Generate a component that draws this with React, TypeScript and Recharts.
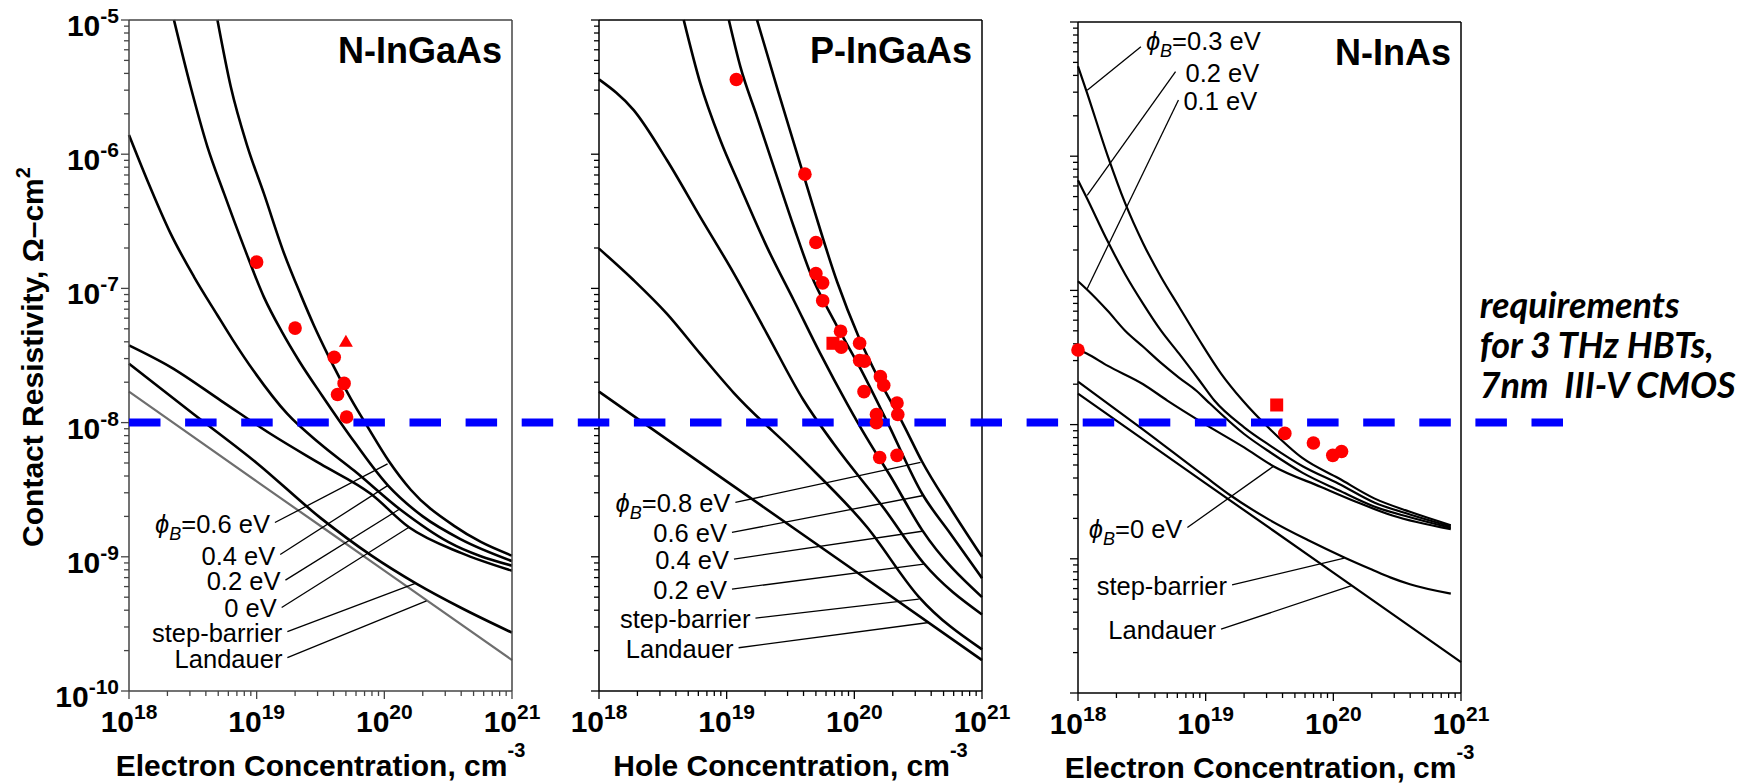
import React from 'react';
import { ComposedChart, Line, Scatter, XAxis, YAxis, ReferenceLine } from 'recharts';

const FONT = "'Liberation Sans', Arial, Helvetica, sans-serif";
const NOTE_FONT = "Lato, 'Open Sans', sans-serif";

// axis decades and minor multipliers
const X_DECADES = [18, 19, 20, 21];
const Y_DECADES = [-10, -9, -8, -7, -6, -5];
const MINOR = [2, 3, 4, 5, 6, 7, 8, 9];
const X_DOMAIN = [1e18, 1e21];
const Y_DOMAIN = [1e-10, 1e-5];

// 1e-8 ohm-cm2 target, drawn across all three panels
const REQUIREMENT = 1e-8;
const REQ_SPAN = [{ x: 0, y: REQUIREMENT }, { x: 1, y: REQUIREMENT }];
const REQ_NOTE = ['requirements', 'for 3 THz HBTs,', '7nm  III-V CMOS'];

// ---- N-InGaAs (x = electron concentration, y = contact resistivity) ----
const P1_PHI06 = [[4.93e18, 1.0e-5], [6.27e18, 3.18e-6], [8.47e18, 1.14e-6], [1.14e19, 5.08e-7], [1.64e19, 1.82e-7], [2.22e19, 8.91e-8], [2.82e19, 5.25e-8], [3.59e19, 3.24e-8], [5.46e19, 1.51e-8], [7.38e19, 9.33e-9], [1.09e20, 5.13e-9], [1.61e20, 3.16e-9], [3.52e20, 1.7e-9], [5.7e20, 1.29e-9], [1e21, 1.02e-9]];
const P1_PHI04 = [[2.25e18, 1.0e-5], [3.04e18, 3.18e-6], [4.11e18, 1.14e-6], [5.56e18, 5.08e-7], [7.96e18, 2.03e-7], [1.14e19, 8.61e-8], [1.59e19, 4.68e-8], [2.15e19, 2.88e-8], [3.27e19, 1.58e-8], [5.3e19, 8.13e-9], [1.07e20, 3.39e-9], [2.0e20, 2.0e-9], [3.98e20, 1.35e-9], [1e21, 9.3e-10]];
const P1_PHI02 = [[1e18, 1.39e-6], [1.39e18, 6.4e-7], [2.12e18, 2.56e-7], [3.23e18, 1.22e-7], [4.93e18, 6.31e-8], [6.46e18, 4.17e-8], [9.55e18, 2.4e-8], [1.74e19, 1.16e-8], [3.16e19, 6.93e-9], [5.79e19, 4.39e-9], [1.34e20, 2.24e-9], [3.16e20, 1.29e-9], [1e21, 8.57e-10]];
const P1_PHI0 = [[1e18, 3.76e-8], [2.12e18, 2.59e-8], [5.24e18, 1.46e-8], [1.29e19, 8.22e-9], [3.16e19, 4.92e-9], [7.82e19, 2.95e-9], [1.56e20, 1.66e-9], [3.98e20, 1.07e-9], [1e21, 7.87e-10]];
const P1_STEP = [[1e18, 2.75e-8], [3.16e18, 1.17e-8], [1e19, 5.01e-9], [3.16e19, 1.95e-9], [7.94e19, 1.02e-9], [1.78e20, 6.31e-10], [3.98e20, 4.17e-10], [1e21, 2.72e-10]];
const LANDAUER = [[1e18, 1.7e-8], [1e19, 3.65e-9], [1e20, 7.9e-10], [1e21, 1.7e-10]];
const P1_CIRCLES = [[1e19, 1.57e-7], [2e19, 5.06e-8], [4.05e19, 3.07e-8], [4.84e19, 1.96e-8], [4.3e19, 1.62e-8], [5.06e19, 1.1e-8]];
const P1_TRIANGLES = [[5e19, 4e-8]];

// ---- P-InGaAs (x = hole concentration) ----
const P2_PHI08 = [[1.73e19, 1.0e-5], [2.51e19, 3.02e-6], [3.55e19, 1.02e-6], [4.79e19, 3.98e-7], [7.33e19, 1.12e-7], [1.08e20, 4.37e-8], [1.6e20, 2.0e-8], [2.44e20, 9.55e-9], [3.39e20, 5.13e-9], [5.68e20, 2.29e-9], [1e21, 1.0e-9]];
const P2_PHI06 = [[1.04e19, 1.0e-5], [1.28e19, 4.49e-6], [1.73e19, 1.9e-6], [2.48e19, 6.78e-7], [3.36e19, 2.87e-7], [4.54e19, 1.29e-7], [6.92e19, 5.77e-8], [1.12e20, 2.51e-8], [1.82e20, 1.0e-8], [3.4e20, 2.95e-9], [5.68e20, 1.48e-9], [1e21, 6.93e-10]];
const P2_PHI04 = [[4.61e18, 1.0e-5], [6.22e18, 3.37e-6], [8.93e18, 1.27e-6], [1.28e19, 5.7e-7], [2.07e19, 2.03e-7], [3.36e19, 8.13e-8], [5.43e19, 3.25e-8], [8.79e19, 1.38e-8], [1.26e20, 7.59e-9], [1.92e20, 3.98e-9], [3.4e20, 1.58e-9], [1e21, 5.01e-10]];
const P2_PHI02 = [[1e18, 3.61e-6], [1.87e18, 2.13e-6], [3.41e18, 9.02e-7], [6.22e18, 3.4e-7], [1.14e19, 1.29e-7], [2.07e19, 4.59e-8], [3.98e19, 1.48e-8], [6.92e19, 6.92e-9], [1.71e20, 2.29e-9], [3.51e20, 8.91e-10], [1e21, 3.72e-10]];
const P2_STEP = [[1e18, 1.98e-7], [1.87e18, 1.15e-7], [3.41e18, 6.46e-8], [6.22e18, 3.25e-8], [1.14e19, 1.66e-8], [3.78e19, 5.5e-9], [1.26e20, 1.66e-9], [3.21e20, 5.01e-10], [1e21, 2.04e-10]];
const P2_CIRCLES = [[1.19e19, 3.6e-6], [4.1e19, 7.1e-7], [5.0e19, 2.2e-7], [5.0e19, 1.29e-7], [5.65e19, 1.1e-7], [5.65e19, 8.1e-8], [7.8e19, 4.8e-8], [7.9e19, 3.65e-8], [1.1e20, 3.9e-8], [1.1e20, 2.9e-8], [1.2e20, 2.87e-8], [1.6e20, 2.2e-8], [1.7e20, 1.9e-8], [1.19e20, 1.7e-8], [2.16e20, 1.4e-8], [2.19e20, 1.15e-8], [1.49e20, 1.15e-8], [1.49e20, 1.0e-8], [1.58e20, 5.5e-9], [2.16e20, 5.7e-9]];
const P2_SQUARES = [[6.8e19, 3.9e-8]];

// ---- N-InAs ----
const P3_PHI03 = [[1e18, 4.68e-6], [1.17e18, 3.02e-6], [1.7e18, 1.02e-6], [2.34e18, 4.47e-7], [3.24e18, 2.24e-7], [4.47e18, 1.26e-7], [6.17e18, 7.59e-8], [8.91e18, 4.27e-8], [1.32e19, 2.4e-8], [1.95e19, 1.51e-8], [3.24e19, 9.12e-9], [5.75e19, 5.62e-9], [1.1e20, 3.98e-9], [2.09e20, 2.82e-9], [3.98e20, 2.24e-9], [8.32e20, 1.78e-9]];
const P3_PHI02 = [[1e18, 6.61e-7], [1.17e18, 4.9e-7], [1.7e18, 2.34e-7], [2.34e18, 1.32e-7], [3.24e18, 7.94e-8], [4.47e18, 5.01e-8], [6.17e18, 3.39e-8], [8.91e18, 2.14e-8], [1.17e19, 1.51e-8], [2.0e19, 9.55e-9], [3.24e19, 6.92e-9], [5.75e19, 4.9e-9], [1.1e20, 3.63e-9], [2.09e20, 2.63e-9], [3.98e20, 2.14e-9], [8.32e20, 1.74e-9]];
const P3_PHI01 = [[1e18, 1.17e-7], [1.17e18, 1.02e-7], [1.7e18, 7.08e-8], [2.34e18, 5.01e-8], [3.24e18, 3.8e-8], [4.47e18, 2.88e-8], [6.17e18, 2.24e-8], [8.51e18, 1.78e-8], [1.02e19, 1.51e-8], [2.0e19, 8.51e-9], [3.24e19, 6.17e-9], [5.75e19, 4.37e-9], [1.1e20, 3.24e-9], [2.09e20, 2.45e-9], [3.98e20, 2.04e-9], [8.32e20, 1.7e-9]];
const P3_PHI0 = [[1e18, 3.63e-8], [1.17e18, 3.39e-8], [1.7e18, 2.75e-8], [3.24e18, 2.0e-8], [5.01e18, 1.51e-8], [1e19, 1.0e-8], [2.0e19, 6.76e-9], [3.39e19, 4.9e-9], [8.02e19, 3.43e-9], [1.52e20, 2.65e-9], [2.9e20, 2.1e-9], [8.32e20, 1.66e-9]];
const P3_STEP = [[1e18, 2.09e-8], [3.16e18, 9.33e-9], [1e19, 4.07e-9], [1.58e19, 2.95e-9], [3.16e19, 1.95e-9], [6.31e19, 1.38e-9], [1.23e20, 1.02e-9], [2.0e20, 8.32e-10], [2.82e20, 7.24e-10], [3.98e20, 6.46e-10], [8.32e20, 5.5e-10]];
const P3_CIRCLES = [[1e18, 3.6e-8], [4.17e19, 8.6e-9], [6.98e19, 7.3e-9], [9.9e19, 5.9e-9], [1.16e20, 6.3e-9]];
const P3_SQUARES = [[3.6e19, 1.4e-8]];

// leader lines: a = label end, b = curve end
const P1_LEADERS = [
    { label: '=0.6 eV', phi: true, a: [1.39e19, 1.8e-9], b: [1.06e20, 4.92e-9] },
    { label: '0.4 eV', a: [1.53e19, 1.04e-9], b: [1.06e20, 3.39e-9] },
    { label: '0.2 eV', a: [1.68e19, 6.7e-10], b: [1.32e20, 2.27e-9] },
    { label: '0 eV', a: [1.57e19, 4.19e-10], b: [1.56e20, 1.66e-9] },
    { label: 'step-barrier', a: [1.74e19, 2.77e-10], b: [1.77e20, 6.37e-10] },
    { label: 'Landauer', a: [1.74e19, 1.77e-10], b: [2.14e20, 4.7e-10] },
];
const P2_LEADERS = [
    { label: '=0.8 eV', phi: true, a: [1.17e19, 2.54e-9], b: [3.3e20, 5.06e-9] },
    { label: '0.6 eV', a: [1.1e19, 1.52e-9], b: [3.4e20, 2.85e-9] },
    { label: '0.4 eV', a: [1.14e19, 9.62e-10], b: [3.4e20, 1.55e-9] },
    { label: '0.2 eV', a: [1.1e19, 5.74e-10], b: [3.5e20, 8.83e-10] },
    { label: 'step-barrier', a: [1.68e19, 3.49e-10], b: [3.2e20, 4.83e-10] },
    { label: 'Landauer', a: [1.24e19, 2.1e-10], b: [3.83e20, 3.24e-10] },
];
const P3_LEADERS = [
    { label: '=0 eV', phi: true, a: [7.19e18, 1.71e-9], b: [3.37e19, 4.86e-9] },
    { label: 'step-barrier', a: [1.61e19, 6.4e-10], b: [1.22e20, 1.01e-9] },
    { label: 'Landauer', a: [1.32e19, 2.99e-10], b: [1.39e20, 6.3e-10] },
    { label: '=0.3 eV', phi: true, a: [3.11e18, 6.55e-6], b: [1.18e18, 3.1e-6], anchor: 'start', off: [5, 3] },
    { label: '0.2 eV', a: [5.81e18, 4.26e-6], b: [1.18e18, 5.1e-7], anchor: 'start', off: [10, 10] },
    { label: '0.1 eV', a: [6.12e18, 2.62e-6], b: [1.18e18, 1.03e-7], anchor: 'start', off: [5, 10] },
];

const PLOT_W = 383;
const PLOT_H = 671;
const CHART_W = 553;
const REQ_LEFT = 129.3;
const REQ_WIDTH = 1435.7;

const PANELS = [
    {
        id: 'ningaas', left: 129.3, top: 20, axis: '#444', yLabels: true, title: 'N-InGaAs',
        xTitle: 'Electron Concentration, cm', width: 2.6,
        curves: [
            { name: 'phi06', pts: P1_PHI06 }, { name: 'phi04', pts: P1_PHI04 },
            { name: 'phi02', pts: P1_PHI02 }, { name: 'phi0', pts: P1_PHI0 },
            { name: 'step', pts: P1_STEP }, { name: 'landauer', pts: LANDAUER, stroke: '#6e6e6e', w: 2.2 },
        ],
        leaders: P1_LEADERS, circles: P1_CIRCLES, squares: [], triangles: P1_TRIANGLES,
    },
    {
        id: 'pingaas', left: 598.7, top: 20, axis: '#000', yLabels: false, title: 'P-InGaAs',
        xTitle: 'Hole Concentration, cm', width: 2.6,
        curves: [
            { name: 'phi08', pts: P2_PHI08 }, { name: 'phi06', pts: P2_PHI06 },
            { name: 'phi04', pts: P2_PHI04 }, { name: 'phi02', pts: P2_PHI02 },
            { name: 'step', pts: P2_STEP }, { name: 'landauer', pts: LANDAUER },
        ],
        leaders: P2_LEADERS, circles: P2_CIRCLES, squares: P2_SQUARES, triangles: [],
    },
    {
        id: 'ninas', left: 1078.2, top: 22, axis: '#000', yLabels: false, title: 'N-InAs',
        xTitle: 'Electron Concentration, cm', width: 2.2,
        curves: [
            { name: 'phi03', pts: P3_PHI03 }, { name: 'phi02', pts: P3_PHI02 },
            { name: 'phi01', pts: P3_PHI01 }, { name: 'phi0', pts: P3_PHI0 },
            { name: 'step', pts: P3_STEP }, { name: 'landauer', pts: LANDAUER },
        ],
        leaders: P3_LEADERS, circles: P3_CIRCLES, squares: P3_SQUARES, triangles: [],
    },
];

const buildTicks = (decades: number[]) => {
    const out: number[] = [];
    decades.forEach((d, i) => {
        out.push(Math.pow(10, d));
        if (i < decades.length - 1) MINOR.forEach((m) => out.push(m * Math.pow(10, d)));
    });
    return out;
};
const X_TICKS = buildTicks(X_DECADES);
const Y_TICKS = buildTicks(Y_DECADES);

const isMajor = (v: number) => Math.abs(Math.log10(v) - Math.round(Math.log10(v))) < 1e-6;
const toPts = (arr: number[][]) => arr.map(([x, y]) => ({ x, y }));

const tickRenderer = (side: string, color: string, labelled: boolean) => (props: any) => {
    const { x, y, payload } = props;
    const v = payload.value;
    const major = isMajor(v);
    const len = major ? 8 : 5;
    let x2 = x;
    let y2 = y;
    if (side === 'bottom') y2 = y + len;
    if (side === 'top') y2 = y - len;
    if (side === 'left') x2 = x - len;
    if (side === 'right') x2 = x + len;
    const e = Math.round(Math.log10(v));
    let label = null;
    if (labelled && major && side === 'bottom') {
        label = (
            <text x={x} y={y + 41} textAnchor="middle" fontFamily={FONT} fontWeight="bold" fill="#000">
                <tspan fontSize={30}>10</tspan>
                <tspan fontSize={21} dy={-13}>{e}</tspan>
            </text>
        );
    }
    if (labelled && major && side === 'left') {
        label = (
            <text x={x - 10} y={y + 16} textAnchor="end" fontFamily={FONT} fontWeight="bold" fill="#000">
                <tspan fontSize={30}>10</tspan>
                <tspan fontSize={21} dy={-13}>{e}</tspan>
            </text>
        );
    }
    return (
        <g>
            <line x1={x} y1={y} x2={x2} y2={y2} stroke={color} strokeWidth={1.3} />
            {label}
        </g>
    );
};

const leaderLabel = (props: any) => {
    const { cx, cy, payload } = props;
    const anchor = payload.anchor || 'end';
    const [dx, dy] = payload.off || [-5, 10];
    return (
        <text x={cx + dx} y={cy + dy} textAnchor={anchor} fontFamily={FONT} fontSize={25.5} fill="#000">
            {payload.phi && <tspan fontStyle="italic">ϕ</tspan>}
            {payload.phi && <tspan fontStyle="italic" fontSize={18} dy={7}>B</tspan>}
            <tspan dy={payload.phi ? -7 : 0}>{payload.label}</tspan>
        </text>
    );
};

const circleShape = (p: any) => <circle cx={p.cx} cy={p.cy} r={6.8} fill="#ff0000" />;
const squareShape = (p: any) => <rect x={p.cx - 6.5} y={p.cy - 6.5} width={13} height={13} fill="#ff0000" />;
const triangleShape = (p: any) => (
    <polygon points={`${p.cx},${p.cy - 7} ${p.cx - 7},${p.cy + 5} ${p.cx + 7},${p.cy + 5}`} fill="#ff0000" />
);

const xTitleContent = (text: string) => (props: any) => {
    const vb = props.viewBox || {};
    return (
        <text x={vb.x + vb.width / 2} y={vb.y + 85} textAnchor="middle" fontFamily={FONT} fontWeight="bold" fontSize={30} fill="#000">
            {text}
            <tspan fontSize={20} dy={-19}>-3</tspan>
        </text>
    );
};

const panelTitleContent = (text: string) => (props: any) => {
    const vb = props.viewBox || {};
    return (
        <text x={vb.x + vb.width - 10} y={vb.y + vb.height + 43} textAnchor="end" fontFamily={FONT} fontWeight="bold" fontSize={36} fill="#000">
            {text}
        </text>
    );
};

const yTitleContent = (props: any) => {
    const vb = props.viewBox || {};
    const tx = vb.x + vb.width - 86.3;
    const ty = vb.y + vb.height / 2 + 1.5;
    return (
        <text transform={`translate(${tx},${ty}) rotate(-90)`} textAnchor="middle" fontFamily={FONT} fontWeight="bold" fontSize={30} fill="#000">
            Contact Resistivity, Ω–cm
            <tspan fontSize={20} dy={-13}>2</tspan>
        </text>
    );
};

function PanelBase({ p }: { p: any }) {
    const chartTop = p.top - 20;
    const height = 784 - chartTop;
    const bottomSpace = height - 20 - PLOT_H;
    const axisLine = { stroke: p.axis, strokeWidth: 1.5 };
    const common = { type: 'number' as const, scale: 'log' as const, interval: 0 as const, tickSize: 0, tickMargin: 0, tickLine: false, axisLine, minTickGap: 0 };
    const labels = p.leaders.map((l: any) => ({ x: l.a[0], y: l.a[1], label: l.label, phi: l.phi, anchor: l.anchor, off: l.off }));
    return (
        <div style={{ position: 'absolute', left: p.left - 130, top: chartTop }}>
            <ComposedChart width={CHART_W} height={height} margin={{ top: 12, right: 32, bottom: bottomSpace - 60, left: 10 }}>
                <XAxis xAxisId="b" dataKey="x" {...common} domain={X_DOMAIN} ticks={X_TICKS} height={60}
                    tick={tickRenderer('bottom', p.axis, true)} label={xTitleContent(p.xTitle)} />
                <XAxis xAxisId="t" orientation="top" dataKey="x" {...common} domain={X_DOMAIN} ticks={X_TICKS} height={8}
                    tick={tickRenderer('top', p.axis, false)} label={panelTitleContent(p.title)} />
                <YAxis yAxisId="l" dataKey="y" {...common} domain={Y_DOMAIN} ticks={Y_TICKS} width={120}
                    tick={tickRenderer('left', p.axis, p.yLabels)} label={p.yLabels ? yTitleContent : undefined} />
                <YAxis yAxisId="r" orientation="right" dataKey="y" {...common} domain={Y_DOMAIN} ticks={Y_TICKS} width={8}
                    tick={tickRenderer('right', p.axis, false)} />
                {p.curves.map((c: any) => (
                    <Line key={c.name} xAxisId="b" yAxisId="l" data={toPts(c.pts)} dataKey="y" type="monotone"
                        stroke={c.stroke || '#000'} strokeWidth={c.w || p.width} dot={false} activeDot={false}
                        isAnimationActive={false} />
                ))}
                {p.leaders.map((l: any) => (
                    <ReferenceLine key={l.label} xAxisId="b" yAxisId="l"
                        segment={[{ x: l.a[0], y: l.a[1] }, { x: l.b[0], y: l.b[1] }]}
                        stroke="#000" strokeWidth={1.3} />
                ))}
                <Scatter xAxisId="b" yAxisId="l" data={labels} dataKey="y" shape={leaderLabel} isAnimationActive={false} />
            </ComposedChart>
        </div>
    );
}

function PanelMarkers({ p }: { p: any }) {
    const chartTop = p.top - 20;
    const height = 784 - chartTop;
    const bottomSpace = height - 20 - PLOT_H;
    return (
        <div style={{ position: 'absolute', left: p.left - 130, top: chartTop }}>
            <ComposedChart width={CHART_W} height={height} margin={{ top: 20, right: CHART_W - 130 - PLOT_W, bottom: bottomSpace, left: 130 }}>
                <XAxis hide dataKey="x" type="number" scale="log" domain={X_DOMAIN} />
                <YAxis hide dataKey="y" type="number" scale="log" domain={Y_DOMAIN} />
                <Scatter data={toPts(p.circles)} dataKey="y" shape={circleShape} isAnimationActive={false} />
                <Scatter data={toPts(p.squares)} dataKey="y" shape={squareShape} isAnimationActive={false} />
                <Scatter data={toPts(p.triangles)} dataKey="y" shape={triangleShape} isAnimationActive={false} />
            </ComposedChart>
        </div>
    );
}

const noteShape = (p: any) => (
    <g>
        {REQ_NOTE.map((t, i) => (
            <text key={t} x={p.cx - 85} y={p.cy - 105 + i * 40} fontFamily={NOTE_FONT} fontWeight="bold"
                fontStyle="italic" fontSize={36} fill="#000" style={{ whiteSpace: 'pre' }}>
                {t}
            </text>
        ))}
    </g>
);

function RequirementLine() {
    const right = 1620 - REQ_WIDTH;
    return (
        <div style={{ position: 'absolute', left: REQ_LEFT, top: 0 }}>
            <ComposedChart width={1620} height={784} data={REQ_SPAN}
                margin={{ top: 20, right, bottom: 784 - 20 - PLOT_H, left: 0 }}>
                <XAxis hide type="number" dataKey="x" domain={[0, 1]} />
                <YAxis hide type="number" dataKey="y" scale="log" domain={Y_DOMAIN} />
                <Line dataKey="y" type="linear" stroke="#0000ff" strokeWidth={8} strokeDasharray="31.5 24.6"
                    dot={false} activeDot={false} isAnimationActive={false} />
                <Scatter data={[REQ_SPAN[1]]} dataKey="y" shape={noteShape} isAnimationActive={false} />
            </ComposedChart>
        </div>
    );
}

export default function App() {
    return (
        <div style={{ position: 'absolute', left: 0, top: 0, width: 1749, height: 784, background: '#fff', overflow: 'hidden' }}>
            {PANELS.map((p) => <PanelBase key={p.id} p={p} />)}
            <RequirementLine />
            {PANELS.map((p) => <PanelMarkers key={p.id + '-m'} p={p} />)}
        </div>
    );
}
